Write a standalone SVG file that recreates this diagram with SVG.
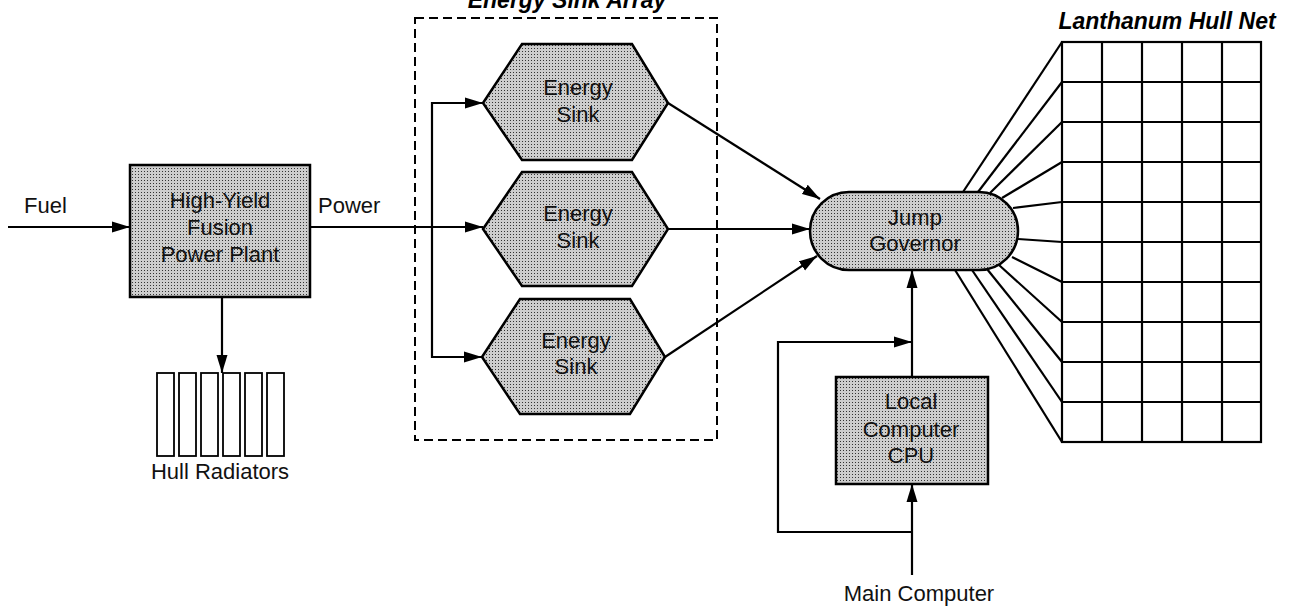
<svg xmlns="http://www.w3.org/2000/svg" width="1291" height="609" viewBox="0 0 1291 609">
  <defs>
    <!-- halftone dot fill used by the shaded blocks -->
    <pattern id="dots" width="3" height="3" patternUnits="userSpaceOnUse">
      <rect width="3" height="3" fill="#cdcdcd"/>
      <rect width="1" height="1" fill="#333"/>
    </pattern>
    <marker id="arrow" markerUnits="userSpaceOnUse" markerWidth="19" markerHeight="12" refX="18" refY="6" orient="auto">
      <path d="M0,0.5 L18,6 L0,11.5 Z" fill="#000"/>
    </marker>
    <style>
      .lbl { font-family: "Liberation Sans", Arial, sans-serif; font-size: 22px; fill: #111; }
      .ctr { text-anchor: middle; }
      .title { font-family: "Liberation Sans", Arial, sans-serif; font-size: 23px; font-weight: bold; font-style: italic; fill: #000; }
      .blk { fill: url(#dots); stroke: #000; stroke-width: 2.5; }
      .wire { fill: none; stroke: #000; stroke-width: 2.2; }
      .arr { marker-end: url(#arrow); }
      .grid { fill: none; stroke: #000; stroke-width: 2.2; }
      .rad { fill: #fff; stroke: #000; stroke-width: 1.8; }
    </style>
  </defs>

  <rect width="1291" height="609" fill="#fff"/>

  <!-- connectors -->
  <g id="connectors">
    <line class="wire arr" x1="8" y1="227" x2="130" y2="227"/>
    <line class="wire arr" x1="310" y1="227" x2="483" y2="227"/>
    <polyline class="wire" points="483,103 432,103 432,357 483,357"/>
    <line class="wire arr" x1="432" y1="103" x2="483" y2="103"/>
    <line class="wire arr" x1="432" y1="357" x2="482" y2="357"/>
    <line class="wire arr" x1="222" y1="297" x2="222" y2="373"/>
    <line class="wire arr" x1="668" y1="103" x2="820" y2="199"/>
    <line class="wire arr" x1="668" y1="229" x2="810" y2="229"/>
    <line class="wire arr" x1="665" y1="357" x2="817" y2="256"/>
    <line class="wire arr" x1="912" y1="377" x2="912" y2="270"/>
    <polyline class="wire arr" points="912,532 778,532 778,342 912,342"/>
    <line class="wire arr" x1="912" y1="575" x2="912" y2="484"/>
    <!-- fan-out from the governor to the hull net -->
    <g class="wire">
      <line x1="963" y1="192" x2="1062" y2="42"/>
      <line x1="978" y1="192" x2="1062" y2="82"/>
      <line x1="990" y1="193" x2="1062" y2="122"/>
      <line x1="1002" y1="198" x2="1062" y2="162"/>
      <line x1="1013" y1="208" x2="1062" y2="202"/>
      <line x1="1018" y1="239" x2="1062" y2="242"/>
      <line x1="1012" y1="257" x2="1062" y2="282"/>
      <line x1="999" y1="265" x2="1062" y2="322"/>
      <line x1="987" y1="269" x2="1062" y2="362"/>
      <line x1="972" y1="270" x2="1062" y2="402"/>
      <line x1="955" y1="270" x2="1062" y2="442"/>
    </g>
  </g>

  <!-- inputs and outputs -->
  <text class="lbl" x="24" y="213">Fuel</text>
  <text class="lbl" x="318" y="213">Power</text>

  <!-- power plant -->
  <g id="power-plant">
    <rect class="blk" x="130" y="165" width="180" height="132"/>
    <text class="lbl ctr" x="220" y="208">High-Yield</text>
    <text class="lbl ctr" x="220" y="235">Fusion</text>
    <text class="lbl ctr" x="220" y="262">Power Plant</text>
  </g>

  <!-- radiators -->
  <g id="hull-radiators">
    <rect class="rad" x="157" y="373" width="17" height="83"/>
    <rect class="rad" x="179" y="373" width="17" height="83"/>
    <rect class="rad" x="201" y="373" width="17" height="83"/>
    <rect class="rad" x="223" y="373" width="17" height="83"/>
    <rect class="rad" x="245" y="373" width="17" height="83"/>
    <rect class="rad" x="267" y="373" width="17" height="83"/>
    <text class="lbl ctr" x="220" y="479">Hull Radiators</text>
  </g>

  <!-- energy sink array -->
  <g id="energy-sink-array">
    <rect x="415" y="18" width="302" height="422" fill="none" stroke="#000" stroke-width="2" stroke-dasharray="9,5"/>
    <text class="title ctr" x="567" y="8">Energy Sink Array</text>
  </g>
  <g id="sink-1">
    <polygon class="blk" points="483,103 522,44 632,44 668,103 632,160 522,160"/>
    <text class="lbl ctr" x="578" y="95">Energy</text>
    <text class="lbl ctr" x="578" y="122">Sink</text>
  </g>
  <g id="sink-2">
    <polygon class="blk" points="483,229 522,172 632,172 668,229 632,286 522,286"/>
    <text class="lbl ctr" x="578" y="221">Energy</text>
    <text class="lbl ctr" x="578" y="248">Sink</text>
  </g>
  <g id="sink-3">
    <polygon class="blk" points="482,357 520,299 630,299 665,357 630,414 520,414"/>
    <text class="lbl ctr" x="576" y="348">Energy</text>
    <text class="lbl ctr" x="576" y="374">Sink</text>
  </g>

  <!-- jump governor -->
  <g id="jump-governor">
    <rect class="blk" x="810" y="192" width="208" height="78" rx="39" ry="39"/>
    <text class="lbl ctr" x="915" y="225">Jump</text>
    <text class="lbl ctr" x="915" y="251">Governor</text>
  </g>

  <!-- local computer -->
  <g id="local-cpu">
    <rect class="blk" x="836" y="377" width="152" height="107"/>
    <text class="lbl ctr" x="911" y="409">Local</text>
    <text class="lbl ctr" x="911" y="437">Computer</text>
    <text class="lbl ctr" x="911" y="463">CPU</text>
  </g>
  <text class="lbl ctr" x="919" y="601">Main Computer</text>

  <!-- hull net -->
  <g id="hull-net">
    <text class="title ctr" x="1167" y="29">Lanthanum Hull Net</text>
    <rect class="grid" x="1062" y="42" width="199" height="400"/>
    <path class="grid" d="M1102,42 V442 M1142,42 V442 M1182,42 V442 M1222,42 V442
      M1062,82 H1261 M1062,122 H1261 M1062,162 H1261 M1062,202 H1261 M1062,242 H1261
      M1062,282 H1261 M1062,322 H1261 M1062,362 H1261 M1062,402 H1261"/>
  </g>
</svg>
